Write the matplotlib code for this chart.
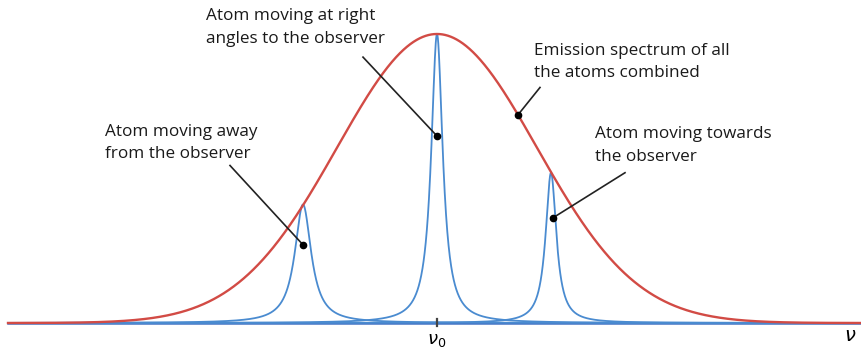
import numpy as np
import matplotlib.pyplot as plt

plt.rcParams['font.family'] = ['Open Sans', 'DejaVu Sans']

# frequency axis in units of the Doppler width, nu0 at 0
x_min, x_max = -4.29, 4.25
gauss_sigma = 1.0

# individual atoms: line centre, peak height, half width
atom_centres = [-1.34, 0.0, 1.14]
atom_heights = [0.41, 1.0, 0.52]
atom_widths = [0.10, 0.07, 0.065]

labels = ["Atom moving away\nfrom the observer",
          "Atom moving at right\nangles to the observer",
          "Emission spectrum of all\nthe atoms combined",
          "Atom moving towards\nthe observer"]
# (x of dot, which curve) and text anchor / line start
dot_x = [-1.34, 0.0, 0.81, 1.16]
dot_curve = [0, 1, 'g', 2]
dot_frac = [0.66, 0.647, 1.0, 0.70]
text_xy = [(-3.32, 0.69), (-2.31, 1.09), (0.97, 0.97), (1.58, 0.68)]
line_start = [(-2.07, 0.545), (-0.74, 0.92), (1.03, 0.815), (1.88, 0.52)]

red = '#d24b45'
blue = '#4a8bd0'

fig = plt.figure(figsize=(8.62, 3.52), dpi=100)
ax = fig.add_axes([0, 0, 1, 1])
ax.set_xlim(-4.37, 4.25)
ax.set_ylim(-0.1003, 1.1176)
ax.axis('off')

x = np.linspace(x_min, x_max, 4000)
gauss = np.exp(-x**2 / (2 * gauss_sigma**2))

# baseline
ax.plot([x_min, x_max], [0, 0], color='#4472c4', lw=1.8, zorder=1)

for c, h, w in zip(atom_centres, atom_heights, atom_widths):
    lor = h / (1 + ((x - c) / w)**2)
    ax.plot(x, lor, color=blue, lw=1.3, zorder=2)

ax.plot(x, gauss, color=red, lw=1.7, zorder=3)

# tick at nu0
ax.plot([0, 0], [-0.012, 0.014], color='#444444', lw=1.6, zorder=4)
ax.text(0, -0.028, r'$\nu_0$', ha='center', va='top', fontsize=13)
ax.text(4.13, -0.015, r'$\nu$', ha='center', va='top', fontsize=14)

for i, lab in enumerate(labels):
    dx = dot_x[i]
    if dot_curve[i] == 'g':
        dy = np.exp(-dx**2 / 2)
    else:
        k = dot_curve[i]
        dy = atom_heights[k] * dot_frac[i]
    sx, sy = line_start[i]
    ax.plot([sx, dx], [sy, dy], color='#222222', lw=1.2, zorder=5)
    ax.plot(dx, dy, 'o', color='black', ms=4.5, zorder=6)
    ax.text(text_xy[i][0], text_xy[i][1], lab, ha='left', va='top',
            fontsize=12.3, color='#1a1a1a', linespacing=1.55)

fig.savefig('out.png', dpi=100)
